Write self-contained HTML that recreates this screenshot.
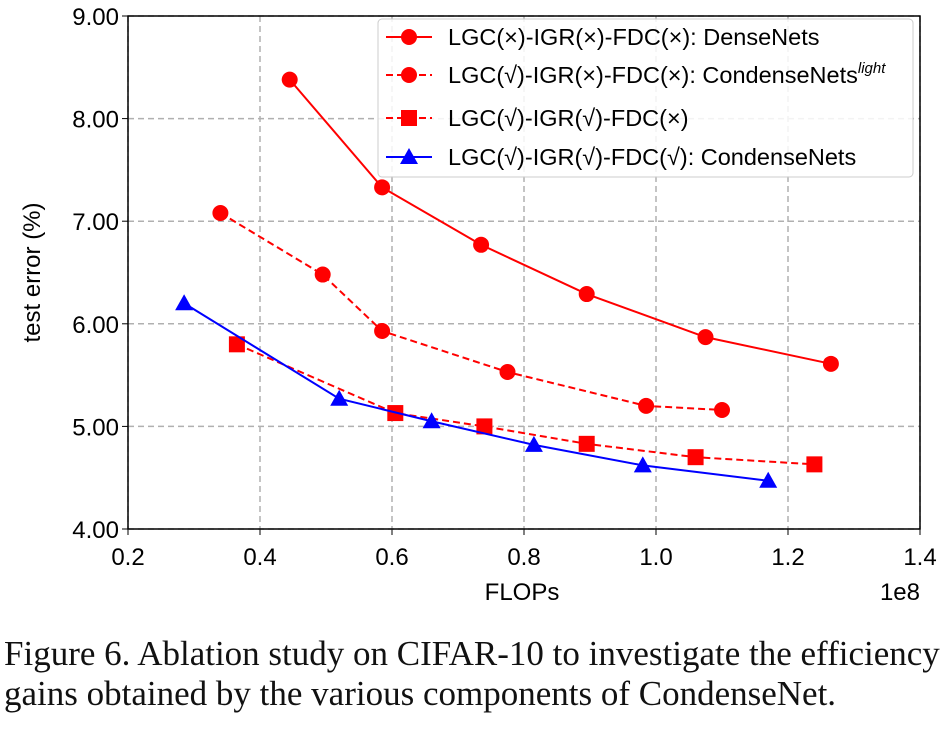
<!DOCTYPE html>
<html><head><meta charset="utf-8"><style>
body{margin:0;background:#fff;width:952px;height:734px;overflow:hidden}
svg text{font-family:"Liberation Sans",sans-serif}
.cap{position:absolute;left:4px;top:634px;font-family:"Liberation Serif",serif;font-size:35px;line-height:40px;color:#111;white-space:nowrap}
</style></head><body>
<svg id="chart" width="952" height="630" style="position:absolute;left:0;top:0"></svg>
<div class="cap">Figure 6. Ablation study on CIFAR-10 to investigate the efficiency<br>gains obtained by the various components of CondenseNet.</div>
<script>
const xTicks=[0.2,0.4,0.6,0.8,1.0,1.2,1.4];
const yTicks=[4,5,6,7,8,9];
const denseX=[0.445,0.585,0.735,0.895,1.075,1.265];
const denseY=[8.38,7.33,6.77,6.29,5.87,5.61];
const lightX=[0.34,0.495,0.585,0.775,0.985,1.10];
const lightY=[7.08,6.48,5.93,5.53,5.20,5.16];
const sqX=[0.365,0.605,0.74,0.895,1.06,1.24];
const sqY=[5.80,5.13,5.00,4.83,4.70,4.63];
const cnX=[0.285,0.52,0.66,0.815,0.98,1.17];
const cnY=[6.20,5.27,5.05,4.82,4.62,4.47];
const L=128,R=920,T=16,B=529;
const sx=v=>L+(v-0.2)/1.2*(R-L), sy=v=>B-(v-4)/5*(B-T);
const svg=document.getElementById('chart');const NS='http://www.w3.org/2000/svg';
function mk(t,a,p){const e=document.createElementNS(NS,t);for(const k in a)e.setAttribute(k,a[k]);(p||svg).appendChild(e);return e;}
xTicks.forEach(v=>{const l=mk('line',{x1:sx(v),x2:sx(v),y1:T,y2:B,stroke:'#b0b0b0','stroke-dasharray':'6,4','stroke-width':1.5});

mk('line',{x1:sx(v),x2:sx(v),y1:B,y2:B+6,stroke:'#000'});
const t=mk('text',{x:sx(v),y:B+36,'text-anchor':'middle','font-size':24});t.textContent=v.toFixed(1);
});
yTicks.forEach(v=>{const l=mk('line',{x1:L,x2:R,y1:sy(v),y2:sy(v),stroke:'#b0b0b0','stroke-dasharray':'6,4','stroke-width':1.5});

mk('line',{x1:L-6,x2:L,y1:sy(v),y2:sy(v),stroke:'#000'});
const t=mk('text',{x:L-9,y:sy(v)+9,'text-anchor':'end','font-size':24});t.textContent=v.toFixed(2);
});
const fr=mk('rect',{x:L,y:T,width:R-L,height:B-T,fill:'none',stroke:'#000','stroke-width':1.5});

function marker(g,type,x,y,c){if(type==='c')mk('circle',{cx:x,cy:y,r:8,fill:c},g);
else if(type==='s')mk('rect',{x:x-8,y:y-8,width:16,height:16,fill:c},g);
else mk('polygon',{points:`${x},${y-9} ${x+9},${y+7} ${x-9},${y+7}`,fill:c},g);}
function series(name,xs,ys,c,dash,type){const g=mk('g',{});
mk('polyline',{points:xs.map((v,i)=>sx(v)+','+sy(ys[i])).join(' '),fill:'none',stroke:c,'stroke-width':2,'stroke-dasharray':dash?'7,4':'none'},g);
xs.forEach((v,i)=>marker(g,type,sx(v),sy(ys[i]),c));}
series('densenets-series',denseX,denseY,'#f00',false,'c');
series('condensenets-light-series',lightX,lightY,'#f00',true,'c');
series('lgc-igr-series',sqX,sqY,'#f00',true,'s');
series('condensenets-series',cnX,cnY,'#00f',false,'t');
const lg=mk('g',{});
mk('rect',{x:378,y:19,width:535,height:158,rx:4,fill:'#fff','fill-opacity':0.85,stroke:'#ccc'},lg);
const items=[['LGC(×)-IGR(×)-FDC(×): DenseNets','#f00',false,'c'],['LGC(√)-IGR(×)-FDC(×): CondenseNets','#f00',true,'c'],['LGC(√)-IGR(√)-FDC(×)','#f00',true,'s'],['LGC(√)-IGR(√)-FDC(√): CondenseNets','#00f',false,'t']];
const rowY=[37,75,118,157];
items.forEach((it,i)=>{const y=rowY[i];const g=mk('g',{},lg);
mk('line',{x1:386,x2:432,y1:y,y2:y,stroke:it[1],'stroke-width':2,'stroke-dasharray':it[2]?'7,4':'none'},g);
marker(g,it[3],409,y,it[1]);
const t=mk('text',{x:448,y:y+8,'font-size':23.5},g);t.textContent=it[0];
if(i===1){const s=mk('tspan',{'font-size':15,'font-style':'italic',dy:-10},t);s.textContent='light';}});
const xt=mk('text',{x:522,y:600,'text-anchor':'middle','font-size':24});xt.textContent='FLOPs';
const ex=mk('text',{x:920,y:600,'text-anchor':'end','font-size':24});ex.textContent='1e8';
const yt=mk('text',{x:0,y:0,'text-anchor':'middle','font-size':24,transform:`translate(40,${(T+B)/2}) rotate(-90)`});yt.textContent='test error (%)';
</script>
</body></html>
